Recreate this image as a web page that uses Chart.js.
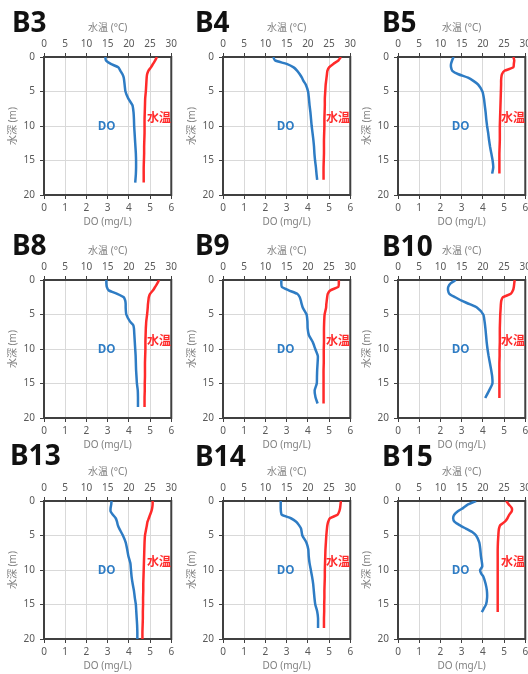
<!DOCTYPE html>
<html>
<head>
<meta charset="utf-8">
<script src="https://cdn.jsdelivr.net/npm/chart.js@4/dist/chart.umd.min.js"></script>
<style>
  body { margin: 0; width: 528px; height: 674px; overflow: hidden; background: #fff; position: relative; }
  canvas { position: absolute; }
  .tag { position: absolute; font: bold 28px "Noto Sans", sans-serif; line-height: 28px; color: #111; z-index: 5; }
</style>
</head>
<body>
<script>
// vertical profiles per station: depth (m), DO (mg/L), water temperature (°C)
var b3Depth = [0, 0.5, 1, 1.5, 2, 2.5, 3, 4, 5, 6, 7, 8, 9, 10, 11, 12, 13, 14, 15, 16, 17, 18.2];
var b3DO    = [2.89, 2.92, 3.15, 3.5, 3.6, 3.7, 3.76, 3.8, 3.84, 3.97, 4.17, 4.22, 4.24, 4.25, 4.27, 4.29, 4.31, 4.33, 4.34, 4.34, 4.33, 4.3];
var b3Temp  = [26.6, 26.2, 25.7, 25.2, 24.6, 24.3, 24.2, 24.1, 24.0, 23.85, 23.8, 23.75, 23.7, 23.7, 23.7, 23.65, 23.6, 23.6, 23.55, 23.5, 23.5, 23.5];

var b4Depth = [0, 0.5, 1, 1.5, 2, 2.5, 3, 3.5, 4, 5, 6, 7, 8, 9, 10, 11, 12, 13, 14, 15, 16, 17, 17.8];
var b4DO    = [2.37, 2.45, 3.0, 3.33, 3.5, 3.62, 3.72, 3.8, 3.9, 4.01, 4.05, 4.08, 4.12, 4.15, 4.18, 4.22, 4.26, 4.29, 4.31, 4.34, 4.38, 4.41, 4.44];
var b4Temp  = [27.8, 27.2, 26.0, 25.0, 24.6, 24.5, 24.4, 24.3, 24.2, 24.1, 24.0, 24.0, 23.95, 23.9, 23.9, 23.85, 23.8, 23.8, 23.8, 23.75, 23.7, 23.7, 23.7];

var b5Depth = [0, 0.5, 1, 1.5, 2, 2.5, 3, 3.5, 4, 5, 6, 7, 8, 9, 10, 11, 12, 13, 14, 15, 16, 16.9];
var b5DO    = [2.62, 2.55, 2.5, 2.5, 2.56, 2.85, 3.3, 3.57, 3.78, 3.98, 4.05, 4.09, 4.13, 4.16, 4.2, 4.25, 4.29, 4.34, 4.4, 4.46, 4.49, 4.44];
var b5Temp  = [27.2, 27.4, 27.3, 27.2, 25.1, 24.5, 24.35, 24.3, 24.3, 24.25, 24.2, 24.15, 24.1, 24.05, 24.0, 24.0, 24.0, 23.95, 23.9, 23.9, 23.9, 23.9];

var b8Depth = [0, 0.5, 1, 1.5, 2, 2.5, 3, 3.5, 4, 5, 6, 6.5, 7, 8, 9, 10, 11, 12, 13, 14, 15, 16, 17, 18.4];
var b8DO    = [2.94, 2.94, 2.96, 3.05, 3.45, 3.76, 3.83, 3.85, 3.85, 3.88, 4.05, 4.2, 4.24, 4.26, 4.28, 4.3, 4.32, 4.33, 4.34, 4.36, 4.38, 4.42, 4.43, 4.43];
var b8Temp  = [27.1, 26.7, 26.2, 25.7, 25.0, 24.7, 24.6, 24.5, 24.45, 24.3, 24.1, 24.05, 24.0, 23.95, 23.9, 23.9, 23.85, 23.8, 23.8, 23.8, 23.75, 23.75, 23.7, 23.7];

var b9Depth = [0, 0.5, 1, 1.5, 2, 2.5, 3, 3.5, 4, 5, 6, 7, 8, 9, 10, 11, 12, 13, 14, 15, 16, 17, 17.9];
var b9DO    = [2.75, 2.75, 2.77, 3.1, 3.5, 3.62, 3.67, 3.71, 3.76, 3.94, 3.98, 3.99, 4.05, 4.23, 4.35, 4.47, 4.46, 4.44, 4.43, 4.42, 4.32, 4.36, 4.46];
var b9Temp  = [27.3, 27.3, 27.2, 25.3, 24.7, 24.55, 24.45, 24.35, 24.3, 23.95, 23.85, 23.8, 23.8, 23.8, 23.75, 23.75, 23.75, 23.7, 23.7, 23.7, 23.7, 23.7, 23.7];

var b10Depth = [0, 0.5, 1, 1.5, 2, 2.5, 3, 3.5, 4, 5, 6, 7, 8, 9, 10, 11, 12, 13, 14, 15, 16, 17.1];
var b10DO    = [2.72, 2.48, 2.37, 2.36, 2.42, 2.7, 3.0, 3.38, 3.72, 4.02, 4.08, 4.12, 4.15, 4.18, 4.22, 4.27, 4.33, 4.39, 4.44, 4.45, 4.3, 4.11];
var b10Temp  = [27.5, 27.4, 27.3, 27.1, 26.6, 24.7, 24.35, 24.25, 24.2, 24.1, 24.05, 24.0, 24.0, 24.0, 23.95, 23.95, 23.9, 23.9, 23.9, 23.9, 23.9, 23.9];

var b13Depth = [0, 0.5, 1, 1.5, 2, 2.5, 3, 3.5, 4, 5, 6, 7, 8, 9, 10, 11, 12, 13, 14, 15, 16, 17, 18, 19, 20];
var b13DO    = [3.18, 3.17, 3.14, 3.14, 3.25, 3.38, 3.44, 3.48, 3.55, 3.72, 3.85, 3.92, 3.98, 4.07, 4.1, 4.13, 4.18, 4.24, 4.28, 4.33, 4.35, 4.37, 4.39, 4.4, 4.4];
var b13Temp  = [25.6, 25.6, 25.5, 25.3, 25.0, 24.7, 24.4, 24.25, 24.1, 23.8, 23.7, 23.65, 23.6, 23.55, 23.5, 23.45, 23.4, 23.4, 23.35, 23.35, 23.3, 23.3, 23.25, 23.2, 23.2];

var b14Depth = [0, 0.5, 1, 1.5, 2, 2.5, 3, 3.5, 4, 5, 6, 7, 8, 9, 10, 11, 12, 13, 14, 15, 16, 17, 18.4];
var b14DO    = [2.72, 2.72, 2.72, 2.73, 2.77, 3.2, 3.45, 3.58, 3.68, 3.74, 3.93, 4.02, 4.04, 4.08, 4.14, 4.2, 4.25, 4.28, 4.31, 4.35, 4.44, 4.48, 4.48];
var b14Temp  = [27.8, 27.7, 27.6, 27.4, 27.0, 25.2, 24.8, 24.6, 24.5, 24.35, 24.25, 24.15, 24.1, 24.05, 24.0, 24.0, 23.95, 23.9, 23.9, 23.85, 23.85, 23.8, 23.8];

var b15Depth = [0, 0.5, 1, 1.5, 2, 2.5, 3, 3.5, 4, 4.5, 5, 6, 7, 8, 9, 9.5, 10, 10.5, 11, 12, 13, 14, 15, 15.5, 16.1];
var b15DO    = [3.68, 3.3, 3.08, 2.82, 2.65, 2.6, 2.66, 2.9, 3.2, 3.5, 3.68, 3.83, 3.88, 3.91, 3.96, 3.97, 3.87, 3.92, 4.03, 4.13, 4.19, 4.2, 4.15, 4.06, 3.95];
var b15Temp  = [25.5, 26.1, 26.8, 26.8, 26.2, 25.8, 25.2, 24.1, 23.8, 23.7, 23.65, 23.55, 23.5, 23.5, 23.5, 23.5, 23.5, 23.5, 23.5, 23.5, 23.5, 23.5, 23.5, 23.5, 23.5];

var stationNames = ['B3', 'B4', 'B5', 'B8', 'B9', 'B10', 'B13', 'B14', 'B15'];
var depths = [b3Depth, b4Depth, b5Depth, b8Depth, b9Depth, b10Depth, b13Depth, b14Depth, b15Depth];
var doValues = [b3DO, b4DO, b5DO, b8DO, b9DO, b10DO, b13DO, b14DO, b15DO];
var tempValues = [b3Temp, b4Temp, b5Temp, b8Temp, b9Temp, b10Temp, b13Temp, b14Temp, b15Temp];

var doTicks = [0, 6, 1];      // min, max, step (mg/L)
var tempTicks = [0, 30, 5];   // °C
var depthTicks = [0, 20, 5];  // m

var BLUE = '#2e7cc4', RED = '#ff2a2a';
var FRAME = '#404040', GRID = '#d9d9d9', TICKTXT = '#595959', TITLETXT = '#808080';

Chart.defaults.font.family = '"Noto Sans", "Noto Sans CJK JP", sans-serif';
Chart.defaults.font.size = 10;

// canvas placement for the 3x3 grid
var colLeft = [0, 179, 354];
var rowTop = [20, 243, 464];
var tagPos = [[12, 7], [195, 7], [382, 7], [12, 230], [195, 230], [382, 231], [10, 440], [195, 441], [382, 441]];

// dark box around the plot area
var frame = {
  id: 'frame',
  beforeDatasetsDraw: function (chart) {
    var a = chart.chartArea, ctx = chart.ctx;
    ctx.save();
    ctx.strokeStyle = FRAME;
    ctx.lineWidth = 2;
    ctx.strokeRect(a.left, a.top, a.right - a.left, a.bottom - a.top);
    ctx.restore();
  }
};

// series names written inside the plot
var seriesTags = {
  id: 'seriesTags',
  afterDatasetsDraw: function (chart) {
    var ctx = chart.ctx, sx = chart.scales.x, sy = chart.scales.y;
    ctx.save();
    ctx.font = 'bold 12px "Noto Sans CJK JP", sans-serif';
    ctx.textAlign = 'center';
    ctx.textBaseline = 'middle';
    ctx.fillStyle = BLUE;
    ctx.fillText('DO', sx.getPixelForValue(2.95), sy.getPixelForValue(9.9));
    ctx.fillStyle = RED;
    ctx.fillText('水温', sx.getPixelForValue(5.42), sy.getPixelForValue(8.8));
    ctx.restore();
  }
};

function points(xs, ys) {
  return xs.map(function (v, i) { return { x: v, y: ys[i] }; });
}

stationNames.forEach(function (name, i) {
  var col = i % 3, row = Math.floor(i / 3);
  var cv = document.createElement('canvas');
  cv.width = 180; cv.height = 213;
  cv.style.left = colLeft[col] + 'px';
  cv.style.top = rowTop[row] + 'px';
  document.body.appendChild(cv);

  var tag = document.createElement('div');
  tag.className = 'tag';
  tag.textContent = name;
  tag.style.left = tagPos[i][0] + 'px';
  tag.style.top = tagPos[i][1] + 'px';
  document.body.appendChild(tag);

  new Chart(cv, {
    type: 'scatter',
    data: {
      datasets: [{
        label: 'DO',
        data: points(doValues[i], depths[i]),
        xAxisID: 'x', yAxisID: 'y',
        showLine: true, borderColor: BLUE, borderWidth: 2.5, pointRadius: 0, tension: 0.2
      }, {
        label: '水温',
        data: points(tempValues[i], depths[i]),
        xAxisID: 'x2', yAxisID: 'y',
        showLine: true, borderColor: RED, borderWidth: 2.5, pointRadius: 0, tension: 0.2
      }]
    },
    options: {
      responsive: false,
      animation: false,
      layout: { padding: { right: 8 } },
      plugins: { legend: { display: false }, tooltip: { enabled: false } },
      scales: {
        x: {
          type: 'linear', position: 'bottom',
          min: doTicks[0], max: doTicks[1],
          ticks: { stepSize: doTicks[2], color: TICKTXT, padding: 3 },
          grid: { color: GRID, tickColor: FRAME, tickLength: 4 },
          border: { display: false },
          title: { display: true, text: 'DO (mg/L)', color: TITLETXT, font: { size: 10 }, padding: { top: 2, bottom: 5 } },
          afterFit: function (s) { s.height = 38; }
        },
        x2: {
          type: 'linear', position: 'top',
          min: tempTicks[0], max: tempTicks[1],
          ticks: { stepSize: tempTicks[2], color: TICKTXT, padding: 3 },
          grid: { drawOnChartArea: false, tickColor: FRAME, tickLength: 4 },
          border: { display: false },
          title: { display: true, text: '水温 (°C)', color: TITLETXT, font: { size: 10 }, padding: { top: 2, bottom: 2 } },
          afterFit: function (s) { s.height = 37; }
        },
        y: {
          type: 'linear', reverse: true,
          min: depthTicks[0], max: depthTicks[1],
          ticks: { stepSize: depthTicks[2], color: TICKTXT, padding: 5 },
          grid: { color: GRID, tickColor: FRAME, tickLength: 4 },
          border: { display: false },
          title: { display: true, text: '水深 (m)', color: TITLETXT, font: { size: 10 }, padding: { top: 7, bottom: 2 } },
          afterFit: function (s) { s.width = 44; }
        }
      }
    },
    plugins: [frame, seriesTags]
  });
});
</script>
</body>
</html>
